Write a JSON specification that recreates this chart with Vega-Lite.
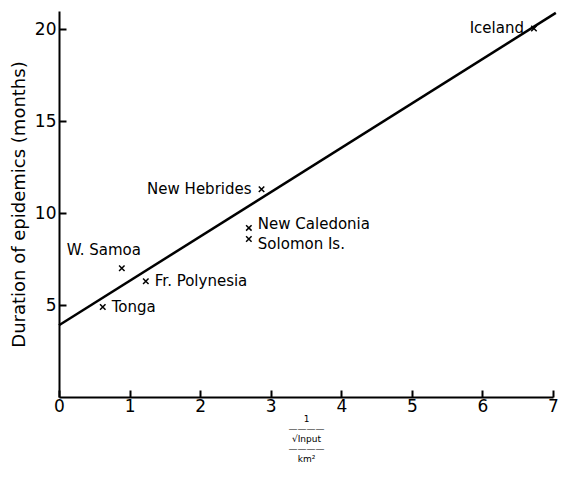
{
  "$schema": "https://vega.github.io/schema/vega-lite/v6.json",
  "width": 494,
  "height": 386,
  "autosize": "none",
  "padding": {"left": 59, "top": 11, "right": 21, "bottom": 84},
  "background": "white",
  "config": {
    "view": {"stroke": null},
    "font": "DejaVu Sans",
    "axis": {"domainColor": "black", "domainWidth": 2, "tickColor": "black", "tickWidth": 2, "labelColor": "black", "titleColor": "black", "grid": false, "labelFont": "DejaVu Sans", "titleFont": "DejaVu Sans", "titleFontWeight": "normal"}
  },
  "datasets": {
    "pts": [
      {"island": "Tonga", "x": 0.62, "y": 4.9, "side": "right"},
      {"island": "W. Samoa", "x": 0.89, "y": 7.0, "side": "above"},
      {"island": "Fr. Polynesia", "x": 1.23, "y": 6.3, "side": "right"},
      {"island": "New Caledonia", "x": 2.69, "y": 9.2, "side": "rightup"},
      {"island": "Solomon Is.", "x": 2.69, "y": 8.6, "side": "rightdown"},
      {"island": "New Hebrides", "x": 2.87, "y": 11.3, "side": "left"},
      {"island": "Iceland", "x": 6.73, "y": 20.05, "side": "left"}
    ],
    "fit": [
      {"x": 0, "y": 3.9},
      {"x": 7.04, "y": 20.9}
    ]
  },
  "layer": [
    {
      "data": {"name": "fit"},
      "mark": {"type": "line", "color": "black", "strokeWidth": 2.5},
      "encoding": {
        "x": {"field": "x", "type": "quantitative", "scale": {"domain": [0, 7], "nice": false},
          "axis": {"values": [0,1,2,3,4,5,6,7], "format": "d", "tickSize": -7, "labelFontSize": 17, "labelPadding": 8, "labelFlush": false,
            "title": ["1", "————", "√Input", "————", "km²"], "titleFontSize": 9, "titleLineHeight": 10, "titlePadding": 0}},
        "y": {"field": "y", "type": "quantitative", "scale": {"domain": [0, 21], "nice": false},
          "axis": {"values": [5,10,15,20], "tickSize": -7, "labelFontSize": 17, "labelPadding": 10,
            "title": "Duration of epidemics (months)", "titleFontSize": 18, "titlePadding": 6}}
      }
    },
    {
      "data": {"name": "pts"},
      "mark": {"type": "point", "shape": "M-1,-1L1,1M-1,1L1,-1", "filled": false, "color": "black", "strokeWidth": 1.5, "size": 30, "opacity": 1},
      "encoding": {
        "x": {"field": "x", "type": "quantitative"},
        "y": {"field": "y", "type": "quantitative"}
      }
    },
    {
      "data": {"name": "pts"},
      "transform": [{"filter": "datum.side == 'right'"}],
      "mark": {"type": "text", "align": "left", "baseline": "middle", "dx": 9, "fontSize": 15, "color": "black"},
      "encoding": {
        "x": {"field": "x", "type": "quantitative"},
        "y": {"field": "y", "type": "quantitative"},
        "text": {"field": "island"}
      }
    },
    {
      "data": {"name": "pts"},
      "transform": [{"filter": "datum.side == 'rightup'"}],
      "mark": {"type": "text", "align": "left", "baseline": "middle", "dx": 9, "dy": -4, "fontSize": 15, "color": "black"},
      "encoding": {
        "x": {"field": "x", "type": "quantitative"},
        "y": {"field": "y", "type": "quantitative"},
        "text": {"field": "island"}
      }
    },
    {
      "data": {"name": "pts"},
      "transform": [{"filter": "datum.side == 'rightdown'"}],
      "mark": {"type": "text", "align": "left", "baseline": "middle", "dx": 9, "dy": 5, "fontSize": 15, "color": "black"},
      "encoding": {
        "x": {"field": "x", "type": "quantitative"},
        "y": {"field": "y", "type": "quantitative"},
        "text": {"field": "island"}
      }
    },
    {
      "data": {"name": "pts"},
      "transform": [{"filter": "datum.side == 'left'"}],
      "mark": {"type": "text", "align": "right", "baseline": "middle", "dx": -10, "fontSize": 15, "color": "black"},
      "encoding": {
        "x": {"field": "x", "type": "quantitative"},
        "y": {"field": "y", "type": "quantitative"},
        "text": {"field": "island"}
      }
    },
    {
      "data": {"name": "pts"},
      "transform": [{"filter": "datum.side == 'above'"}],
      "mark": {"type": "text", "align": "center", "baseline": "bottom", "dx": -18, "dy": -10, "fontSize": 15, "color": "black"},
      "encoding": {
        "x": {"field": "x", "type": "quantitative"},
        "y": {"field": "y", "type": "quantitative"},
        "text": {"field": "island"}
      }
    }
  ]
}
